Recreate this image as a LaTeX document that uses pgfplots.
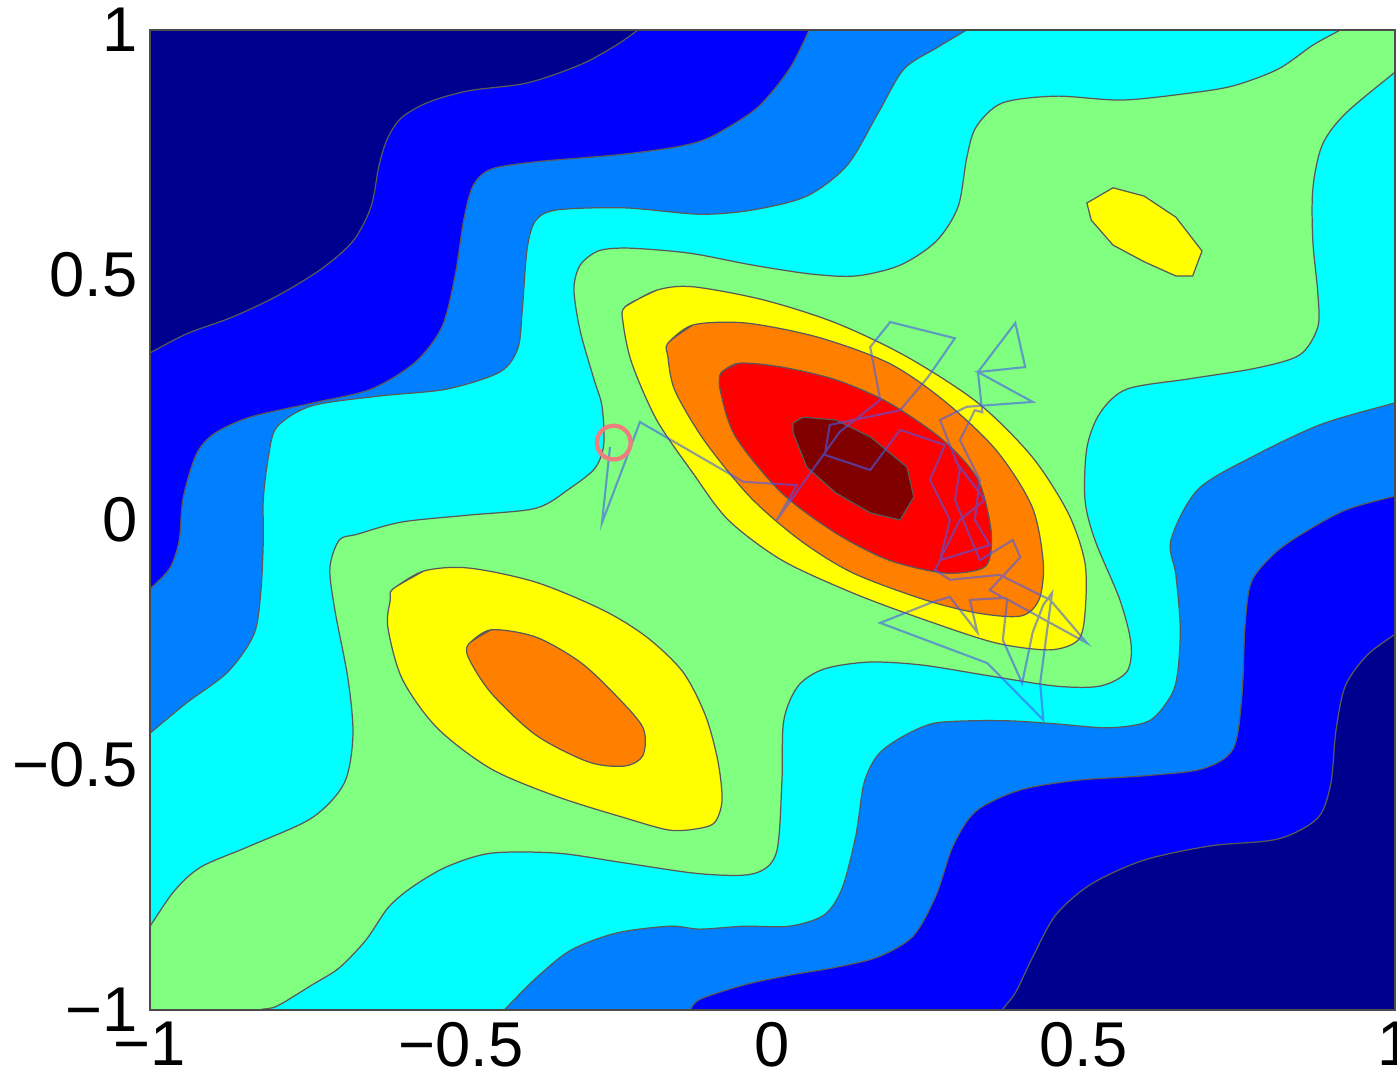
\documentclass[border=0pt]{standalone}
\usepackage{pgfplots}
\pgfplotsset{compat=1.18}
\usetikzlibrary{calc}
\usepackage{fontspec}
\setmainfont{Liberation Sans}

\definecolor{cnavy}{RGB}{0,0,143}
\definecolor{cblue}{RGB}{0,0,255}
\definecolor{cmid}{RGB}{0,128,255}
\definecolor{ccyan}{RGB}{0,255,255}
\definecolor{cgreen}{RGB}{128,255,128}
\definecolor{cyellow}{RGB}{255,255,0}
\definecolor{corange}{RGB}{255,128,0}
\definecolor{cred}{RGB}{255,0,0}
\definecolor{cdark}{RGB}{128,0,0}
\definecolor{cwalk}{RGB}{70,90,235}
\definecolor{ccirc}{RGB}{240,125,125}

\begin{document}
\begin{tikzpicture}
\begin{axis}[
  name=ax,
  scale only axis,
  width=12.45cm, height=9.8cm,
  xmin=-1, xmax=1, ymin=-1, ymax=1,
  xtick={-1,-0.5,0,0.5,1},
  xticklabels={−1,−0.5,0,0.5,1},
  ytick={-1,-0.5,0,0.5,1},
  yticklabels={−1,−0.5,0,0.5,1},
  major tick length=0pt,
  tick label style={font=\fontsize{18}{18}\selectfont},
  axis background/.style={fill=cnavy},
  axis line style={black!70, line width=0.4pt},
  axis on top,
  edge/.style={draw=black!65, line width=0.35pt},
  cont/.style={edge, smooth, tension=0.5},
]
% level 1: blue (points beyond the box are clipped away)
\addplot[cont, fill=cblue] coordinates {
  (-0.066,1.13) (-0.171,1.04)
  (-0.216,1) (-0.251,0.969) (-0.309,0.929) (-0.394,0.892) (-0.488,0.876)
  (-0.552,0.853) (-0.595,0.822) (-0.618,0.780) (-0.632,0.724) (-0.645,0.639)
  (-0.674,0.569) (-0.725,0.512) (-0.796,0.457) (-0.868,0.414) (-0.941,0.380)
  (-1,0.341) (-1.05,0.308) (-1.15,0.24) (-1.3,-1.3) (0.33,-1.13) (0.35,-1.04)
  (0.369,-1) (0.391,-0.963) (0.418,-0.892) (0.455,-0.806)
  (0.512,-0.743) (0.597,-0.694) (0.704,-0.665) (0.812,-0.651) (0.876,-0.608)
  (0.897,-0.537) (0.905,-0.431) (0.920,-0.339) (0.955,-0.276) (1,-0.233)
  (1.04,-0.195) (1.12,-0.12) (1.3,1.3)
} -- cycle;
% level 2: mid blue
\addplot[cont, fill=cmid] coordinates {
  (0.11,1.13) (0.074,1.04)
  (0.059,1) (0.027,0.920) (-0.023,0.843) (-0.081,0.794) (-0.116,0.773)
  (-0.165,0.759) (-0.251,0.745) (-0.380,0.731) (-0.452,0.716) (-0.481,0.682)
  (-0.496,0.612) (-0.510,0.498) (-0.531,0.394) (-0.574,0.322) (-0.645,0.267)
  (-0.738,0.239) (-0.839,0.210) (-0.897,0.176) (-0.926,0.133) (-0.947,0.043)
  (-0.953,-0.041) (-0.968,-0.098) (-1,-0.141) (-1.03,-0.181) (-1.09,-0.26)
  (-1.3,-1.3) (-0.2,-1.1) (-0.157,-1.03) (-0.133,-1)
  (-0.116,-0.978) (-0.046,-0.949) (0.027,-0.929) (0.097,-0.914) (0.169,-0.892)
  (0.226,-0.849) (0.263,-0.765) (0.290,-0.665) (0.327,-0.594) (0.398,-0.551)
  (0.491,-0.531) (0.597,-0.522) (0.690,-0.508) (0.740,-0.467) (0.754,-0.359)
  (0.759,-0.218) (0.769,-0.127) (0.804,-0.071) (0.847,-0.031) (0.920,0.020)
  (1,0.049) (1.05,0.067) (1.14,0.10) (1.3,1.3)
} -- cycle;
% level 3: cyan
\addplot[cont, fill=ccyan] coordinates {
  (0.43,1.09) (0.352,1.03)
  (0.312,1) (0.263,0.963) (0.211,0.920) (0.169,0.829) (0.120,0.724)
  (0.055,0.661) (-0.031,0.633) (-0.116,0.624) (-0.237,0.637) (-0.345,0.633)
  (-0.380,0.612) (-0.394,0.555) (-0.402,0.429) (-0.409,0.351) (-0.438,0.302)
  (-0.524,0.267) (-0.632,0.253) (-0.740,0.233) (-0.796,0.190) (-0.810,0.127)
  (-0.818,0.043) (-0.818,-0.041) (-0.822,-0.147) (-0.833,-0.233) (-0.875,-0.310)
  (-0.941,-0.373) (-1,-0.435) (-1.035,-0.471) (-1.1,-0.54)
  (-1.3,-1.3) (-0.50,-1.09) (-0.456,-1.03) (-0.431,-1) (-0.380,-0.935)
  (-0.324,-0.878) (-0.251,-0.843) (-0.165,-0.829) (-0.116,-0.835) (-0.046,-0.829)
  (0.027,-0.829) (0.083,-0.806) (0.112,-0.751) (0.134,-0.643) (0.147,-0.537)
  (0.169,-0.480) (0.205,-0.445) (0.255,-0.416) (0.312,-0.410) (0.383,-0.410)
  (0.455,-0.416) (0.541,-0.424) (0.605,-0.410) (0.640,-0.359) (0.651,-0.310)
  (0.655,-0.218) (0.648,-0.112) (0.640,-0.041) (0.684,0.063) (0.777,0.133)
  (0.883,0.196) (1,0.239) (1.05,0.257) (1.14,0.29) (1.3,1.3)
} -- cycle;
% level 4: green
\addplot[cont, fill=cgreen] coordinates {
  (1.02,1.08) (0.95,1.027)
  (0.912,1) (0.868,0.969) (0.812,0.920) (0.740,0.886) (0.669,0.871)
  (0.561,0.857) (0.455,0.865) (0.369,0.851) (0.327,0.802) (0.312,0.739)
  (0.298,0.639) (0.263,0.569) (0.205,0.520) (0.134,0.498) (0.062,0.502)
  (-0.031,0.520) (-0.116,0.541) (-0.165,0.549) (-0.237,0.555) (-0.280,0.549)
  (-0.309,0.520) (-0.319,0.471) (-0.309,0.386) (-0.287,0.288) (-0.274,0.233)
  (-0.271,0.155) (-0.285,0.106) (-0.325,0.065) (-0.380,0.024) (-0.488,0.010)
  (-0.595,-0.004) (-0.667,-0.029) (-0.696,-0.041) (-0.711,-0.098) (-0.703,-0.184)
  (-0.682,-0.324) (-0.674,-0.439) (-0.688,-0.537) (-0.740,-0.608) (-0.839,-0.665)
  (-0.918,-0.708) (-0.961,-0.757) (-1,-0.829) (-1.02,-0.865) (-1.06,-0.94)
  (-1.3,-1.3) (-0.95,-1.06) (-0.87,-1.02) (-0.825,-1)
  (-0.796,-0.992) (-0.740,-0.949) (-0.696,-0.914) (-0.653,-0.857) (-0.618,-0.792)
  (-0.581,-0.751) (-0.524,-0.708) (-0.452,-0.680) (-0.345,-0.680) (-0.237,-0.700)
  (-0.116,-0.722) (-0.031,-0.722) (0.006,-0.680) (0.015,-0.537) (0.018,-0.410)
  (0.041,-0.339) (0.083,-0.304) (0.155,-0.290) (0.240,-0.296) (0.348,-0.318)
  (0.455,-0.339) (0.526,-0.339) (0.569,-0.310) (0.576,-0.253) (0.558,-0.163)
  (0.518,-0.041) (0.502,0.041) (0.505,0.147) (0.526,0.218) (0.569,0.267)
  (0.669,0.288) (0.777,0.310) (0.847,0.337) (0.876,0.394) (0.876,0.463)
  (0.868,0.569) (0.868,0.676) (0.883,0.765) (0.920,0.829) (1,0.914)
  (1.035,0.95) (1.09,1.01) (1.3,1.3)
} -- cycle;
% level 5: yellow (first two points repeated to close smoothly)
\addplot[cont, fill=cyellow] coordinates {
  (-0.237,0.435) (-0.186,0.469) (-0.128,0.476) (-0.014,0.449) (0.102,0.402)
  (0.216,0.333) (0.330,0.239) (0.417,0.129) (0.475,0.014) (0.502,-0.088)
  (0.502,-0.190) (0.491,-0.245) (0.446,-0.265) (0.359,-0.251) (0.245,-0.204)
  (0.129,-0.149) (0.015,-0.082) (-0.071,0) (-0.128,0.096) (-0.186,0.204)
  (-0.226,0.320) (-0.240,0.402) (-0.237,0.435) (-0.186,0.469)
};
\addplot[cont, fill=cyellow] coordinates {
  (-0.610,-0.141) (-0.560,-0.104) (-0.488,-0.098) (-0.380,-0.127) (-0.272,-0.184)
  (-0.202,-0.239) (-0.144,-0.310) (-0.108,-0.398) (-0.088,-0.490) (-0.081,-0.571)
  (-0.092,-0.616) (-0.116,-0.629) (-0.165,-0.633) (-0.237,-0.608) (-0.345,-0.565)
  (-0.452,-0.508) (-0.539,-0.424) (-0.595,-0.324) (-0.618,-0.218) (-0.614,-0.163)
  (-0.610,-0.141) (-0.560,-0.104)
};
\addplot[edge, fill=cyellow] coordinates {
  (0.505,0.647) (0.547,0.678) (0.597,0.661) (0.648,0.618) (0.690,0.549)
  (0.675,0.498) (0.648,0.498) (0.597,0.527) (0.547,0.561) (0.512,0.612)
} -- cycle;
% level 6: orange
\addplot[cont, fill=corange] coordinates {
  (-0.168,0.361) (-0.128,0.398) (-0.043,0.402) (0.073,0.373) (0.187,0.320)
  (0.274,0.245) (0.359,0.143) (0.417,0.027) (0.435,-0.088) (0.428,-0.163)
  (0.399,-0.196) (0.330,-0.190) (0.245,-0.163) (0.129,-0.108) (0.044,-0.041)
  (-0.036,0.047) (-0.110,0.163) (-0.157,0.265) (-0.168,0.333)
  (-0.168,0.361) (-0.128,0.398)
};
\addplot[cont, fill=corange] coordinates {
  (-0.488,-0.253) (-0.452,-0.224) (-0.380,-0.239) (-0.309,-0.290) (-0.251,-0.359)
  (-0.208,-0.424) (-0.208,-0.480) (-0.237,-0.502) (-0.295,-0.494) (-0.380,-0.439)
  (-0.452,-0.353) (-0.488,-0.282) (-0.488,-0.253) (-0.452,-0.224)
};
% level 7: red
\addplot[cont, fill=cred] coordinates {
  (-0.083,0.300) (-0.054,0.320) (0.015,0.312) (0.102,0.286) (0.187,0.239)
  (0.274,0.163) (0.330,0.082) (0.351,-0.020) (0.348,-0.082) (0.330,-0.102)
  (0.274,-0.108) (0.187,-0.082) (0.102,-0.027) (0.015,0.055) (-0.059,0.169)
  (-0.083,0.259) (-0.083,0.300) (-0.054,0.320)
};
% level 8: dark red (kept angular, as in the reference)
\addplot[edge, fill=cdark] coordinates {
  (0.033,0.198) (0.049,0.210) (0.102,0.204) (0.158,0.169) (0.216,0.108)
  (0.227,0.047) (0.205,0) (0.158,0.014) (0.102,0.055) (0.055,0.108)
  (0.033,0.178)
} -- cycle;
% sampler path
\addplot[cwalk, opacity=0.6, line width=0.6pt] coordinates {
  (-0.261,0.149) (-0.274,-0.006) (-0.237,0.118) (-0.213,0.200) (-0.047,0.078)
  (0.039,0.071) (0.007,0) (0.108,0.180) (0.173,0.245) (0.157,0.353)
  (0.189,0.404) (0.293,0.371) (0.250,0.292) (0.205,0.224) (0.092,0.194)
  (0.084,0.133) (0.157,0.102) (0.205,0.184) (0.277,0.153) (0.253,0.082)
  (0.285,0) (0.269,-0.082) (0.349,-0.051) (0.325,0) (0.333,0.082)
  (0.301,0.163) (0.325,0.224) (0.337,0.220) (0.330,0.302) (0.390,0.402)
  (0.406,0.312) (0.330,0.302) (0.418,0.241) (0.312,0.231) (0.269,0.204)
  (0.301,0.102) (0.293,0.041) (0.333,-0.082) (0.386,-0.041) (0.398,-0.076)
  (0.349,-0.143) (0.377,-0.163) (0.370,-0.245) (0.401,-0.333) (0.418,-0.229)
  (0.435,-0.173) (0.449,-0.149) (0.430,-0.333) (0.435,-0.408) (0.345,-0.292)
  (0.173,-0.210) (0.258,-0.167) (0.285,-0.157) (0.329,-0.229) (0.317,-0.163)
  (0.373,-0.159) (0.505,-0.251) (0.446,-0.163) (0.365,-0.112) (0.285,-0.122)
  (0.261,-0.102) (0.301,0) (0.341,0.041) (0.293,0.122)
};
% start marker
\addplot[only marks, mark=o, mark size=4.8pt,
  mark options={draw=ccirc, line width=1.2pt}] coordinates {(-0.255,0.158)};
\end{axis}
\pgfresetboundingbox
\useasboundingbox ($(ax.south west)+(-1.5cm,-0.75cm)$) rectangle ($(ax.north east)+(0.02cm,0.3cm)$);
\end{tikzpicture}
\end{document}
